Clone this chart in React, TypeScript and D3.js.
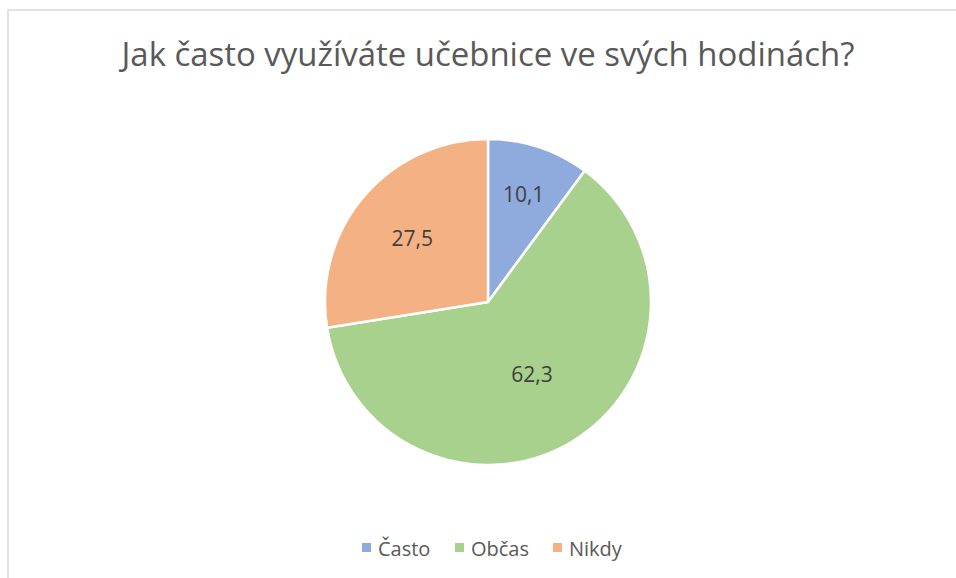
import React from "react";
import * as d3 from "d3";

const categories = ["Často", "Občas", "Nikdy"];
const values = [10.1, 62.3, 27.5];
const labels = ["10,1", "62,3", "27,5"];
const title = "Jak často využíváte učebnice ve svých hodinách?";

const colors = ["#8faadc", "#a9d18e", "#f4b183"];
const labelRadiusFrac = [0.7, 0.52, 0.61];

const W = 956;
const H = 578;
const cx = 488;
const cy = 302;
const R = 163;
const FONT = "'Open Sans', 'Noto Sans', sans-serif";

export default function App() {
  const pie = d3.pie<number>().sort(null).value((d) => d)(values);
  const arc = d3.arc<d3.PieArcDatum<number>>().innerRadius(0).outerRadius(R);

  const legendX = d3.scaleOrdinal<string, number>().domain(categories).range([362, 455, 553]);

  return (
    <svg
      width={W}
      height={H}
      style={{ position: "absolute", left: 0, top: 0, background: "#fff" }}
    >
      <rect x={8} y={10} width={1200} height={1200} fill="#fff" stroke="#d9d9d9" strokeWidth={1.5} />
      <text
        x={cx}
        y={66}
        textAnchor="middle"
        fontFamily={FONT}
        fontSize={32}
        fill="#595959"
        textLength={733}
        lengthAdjust="spacingAndGlyphs"
      >
        {title}
      </text>
      <g transform={`translate(${cx},${cy})`}>
        {pie.map((p, i) => (
          <path key={i} d={arc(p) || ""} fill={colors[i]} stroke="#fff" strokeWidth={2.5} strokeLinejoin="round" />
        ))}
        {pie.map((p, i) => {
          const a = (p.startAngle + p.endAngle) / 2;
          const r = R * labelRadiusFrac[i];
          const x = Math.sin(a) * r;
          const y = -Math.cos(a) * r;
          return (
            <text
              key={"l" + i}
              x={x}
              y={y}
              textAnchor="middle"
              dominantBaseline="central"
              fontFamily={FONT}
              fontSize={21}
              fill="#404040"
            >
              {labels[i]}
            </text>
          );
        })}
      </g>
      <g>
        {categories.map((c, i) => (
          <g key={c} transform={`translate(${legendX(c)},543)`}>
            <rect x={0} y={0} width={9} height={9} fill={colors[i]} />
            <text x={16} y={12.5} fontFamily={FONT} fontSize={20} fill="#595959">
              {c}
            </text>
          </g>
        ))}
      </g>
    </svg>
  );
}
